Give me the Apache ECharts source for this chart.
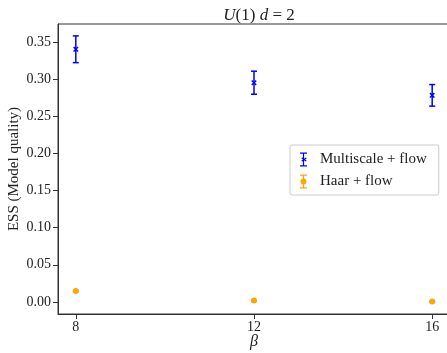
<!DOCTYPE html>
<html>
<head>
<meta charset="utf-8">
<script src="https://cdn.jsdelivr.net/npm/echarts@6/dist/echarts.min.js"></script>
<style>
  html, body { margin: 0; padding: 0; background: #fff; }
  #chart { width: 447px; height: 353px; }
</style>
</head>
<body>
<div id="chart"></div>
<script>
// beta values on the x axis
const betas = [8, 12, 16];
// ESS
const multiscale = [0.340, 0.295, 0.278];
const multiscaleErr = [0.018, 0.0155, 0.0145];
const haar = [0.0148, 0.0020, 0.0005];
const haarErr = [0.0008, 0.0005, 0.0003];
const xTicks = [8, 12, 16];
const yTicks = [0, 0.05, 0.10, 0.15, 0.20, 0.25, 0.30, 0.35];

const FONT = 'Liberation Serif';
const BLUE = '#0000ff';
const ORANGE = '#ffa500';

function rows(vals, errs) {
    return betas.map((b, i) => [b, vals[i], errs[i]]);
}

// error bar with caps, plus x marker or dot
function errorBar(color, cross) {
    return function (params, api) {
        const x = api.value(0), y = api.value(1), e = api.value(2);
        const top = api.coord([x, y + e]);
        const bot = api.coord([x, y - e]);
        const mid = api.coord([x, y]);
        const style = { stroke: color, lineWidth: 1.5 };
        const kids = [
            { type: 'line', shape: { x1: top[0], y1: top[1], x2: bot[0], y2: bot[1] }, style: style },
            { type: 'line', shape: { x1: top[0] - 3, y1: top[1], x2: top[0] + 3, y2: top[1] }, style: style },
            { type: 'line', shape: { x1: bot[0] - 3, y1: bot[1], x2: bot[0] + 3, y2: bot[1] }, style: style }
        ];
        if (cross) {
            const s = 2.2;
            kids.push({ type: 'line', shape: { x1: mid[0] - s, y1: mid[1] - s, x2: mid[0] + s, y2: mid[1] + s }, style: style });
            kids.push({ type: 'line', shape: { x1: mid[0] - s, y1: mid[1] + s, x2: mid[0] + s, y2: mid[1] - s }, style: style });
        } else {
            kids.push({ type: 'circle', shape: { cx: mid[0], cy: mid[1], r: 3 }, style: { fill: color } });
        }
        return { type: 'group', children: kids };
    };
}

const iconBar = 'path://M0,0h7v1.2h-7z M2.9,0h1.2v14h-1.2z M0,12.8h7v1.2h-7z';
const iconX = iconBar + ' M1.2,5.8l1,-0.8l4.6,3.2l-1,0.8z M1.2,8.2l4.6,-3.2l1,0.8l-4.6,3.2z';
const iconDot = iconBar + ' M3.5,4 A3,3 0 1 1 3.49,4 z';

const chart = echarts.init(document.getElementById('chart'), null, { renderer: 'canvas' });

chart.setOption({
    animation: false,
    backgroundColor: '#fff',
    title: {
        text: '{i|U}(1) {i|d} = 2',
        left: 254,
        textAlign: 'center',
        top: 2,
        textStyle: {
            fontFamily: FONT, fontSize: 17, fontWeight: 'normal', color: '#222',
            rich: { i: { fontFamily: FONT, fontSize: 17, fontStyle: 'italic', color: '#222' } }
        }
    },
    grid: {
        left: 58, top: 24, right: -3, bottom: 39,
        outerBoundsMode: 'none',
        containLabel: false,
        show: true, borderColor: '#333', borderWidth: 1
    },
    legend: {
        orient: 'vertical',
        left: 290, top: 145,
        width: 150,
        padding: [7, 12, 6, 10],
        itemGap: 7,
        itemWidth: 7, itemHeight: 14,
        backgroundColor: '#fff',
        borderColor: '#ccc', borderWidth: 1, borderRadius: 2,
        textStyle: { fontFamily: FONT, fontSize: 15, color: '#222', padding: [0, 0, 0, 8] },
        data: [
            { name: 'Multiscale + flow', icon: iconX, itemStyle: { color: BLUE } },
            { name: 'Haar + flow', icon: iconDot, itemStyle: { color: ORANGE } }
        ]
    },
    xAxis: {
        type: 'value',
        min: 7.6, max: 16.4,
        name: 'β',
        nameLocation: 'middle',
        nameGap: 20,
        nameMoveOverlap: false,
        nameTextStyle: { fontFamily: FONT, fontSize: 16, fontStyle: 'italic', color: '#222' },
        splitLine: { show: false },
        axisLine: { onZero: false, lineStyle: { color: '#333' } },
        axisTick: { inside: false, length: 5, lineStyle: { color: '#333' }, customValues: xTicks },
        axisLabel: { fontFamily: FONT, fontSize: 14, color: '#222', margin: 6, customValues: xTicks }
    },
    yAxis: {
        type: 'value',
        min: -0.0162, max: 0.374,
        name: 'ESS (Model quality)',
        nameLocation: 'middle',
        nameGap: 36,
        nameMoveOverlap: false,
        nameTextStyle: { fontFamily: FONT, fontSize: 15, color: '#222' },
        splitLine: { show: false },
        axisLine: { show: true, onZero: false, lineStyle: { color: '#333' } },
        axisTick: { show: true, inside: false, length: 5, lineStyle: { color: '#333' }, customValues: yTicks },
        axisLabel: {
            fontFamily: FONT, fontSize: 14, color: '#222', margin: 7,
            customValues: yTicks,
            formatter: v => v.toFixed(2)
        }
    },
    series: [
        {
            name: 'Multiscale + flow',
            type: 'custom',
            renderItem: errorBar(BLUE, true),
            itemStyle: { color: BLUE },
            encode: { x: 0, y: 1 },
            data: rows(multiscale, multiscaleErr)
        },
        {
            name: 'Haar + flow',
            type: 'custom',
            renderItem: errorBar(ORANGE, false),
            itemStyle: { color: ORANGE },
            encode: { x: 0, y: 1 },
            data: rows(haar, haarErr)
        }
    ]
});
</script>
</body>
</html>
